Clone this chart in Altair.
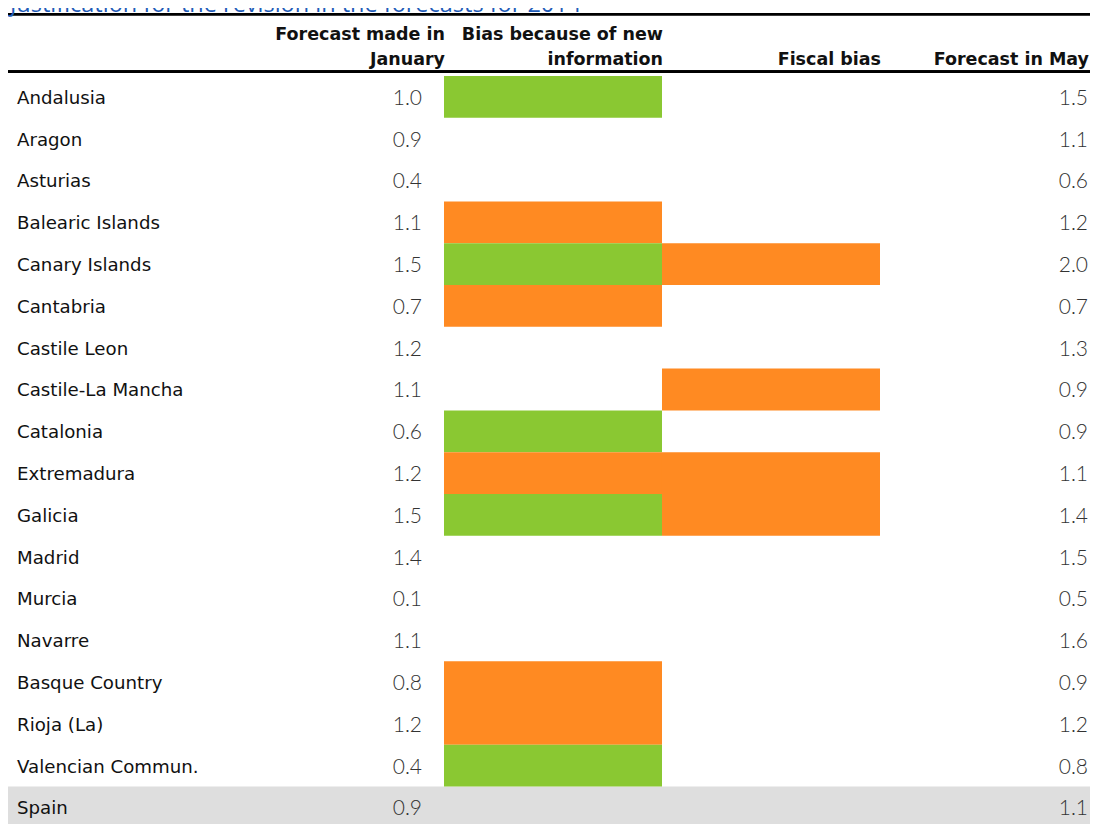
import altair as alt
import pandas as pd

# ---------------- data ----------------
regions = ["Andalusia", "Aragon", "Asturias", "Balearic Islands", "Canary Islands",
           "Cantabria", "Castile Leon", "Castile-La Mancha", "Catalonia", "Extremadura",
           "Galicia", "Madrid", "Murcia", "Navarre", "Basque Country", "Rioja (La)",
           "Valencian Commun.", "Spain"]
forecast_january = [1.0, 0.9, 0.4, 1.1, 1.5, 0.7, 1.2, 1.1, 0.6, 1.2,
                    1.5, 1.4, 0.1, 1.1, 0.8, 1.2, 0.4, 0.9]
forecast_may = [1.5, 1.1, 0.6, 1.2, 2.0, 0.7, 1.3, 0.9, 0.9, 1.1,
                1.4, 1.5, 0.5, 1.6, 0.9, 1.2, 0.8, 1.1]
# "up" = green cell, "down" = orange cell, "" = no bias
bias_new_information = ["up", "", "", "down", "up", "down", "", "", "up", "down",
                        "up", "", "", "", "down", "down", "up", ""]
bias_fiscal = ["", "", "", "", "down", "", "", "down", "", "down",
               "down", "", "", "", "", "", "", ""]
columns = ["Region", "Forecast made in January", "Bias because of new information",
           "Fiscal bias", "Forecast in May"]
header_line1 = ["", "Forecast made in", "Bias because of new", "", ""]
header_line2 = ["", "January", "information", "Fiscal bias", "Forecast in May"]
title_text = "Justification for the revision in the forecasts for 2014"
total_row = "Spain"

# ---------------- tables ----------------
W_SVG = 1082      # svg width (fits the page without scaling)
W = 1090          # band range of the table columns
ROW = 41.8
H = ROW * len(regions)

rows = pd.DataFrame({"region": regions, "jan": forecast_january, "may": forecast_may})
rows["c_label"] = columns[0]
rows["c_jan"] = columns[1]
rows["c_may"] = columns[4]

bar_records = []
for r, b in zip(regions, bias_new_information):
    if b:
        bar_records.append({"region": r, "col": columns[2], "dir": b})
for r, b in zip(regions, bias_fiscal):
    if b:
        bar_records.append({"region": r, "col": columns[3], "dir": b})
bars_df = pd.DataFrame(bar_records)

header_df = pd.DataFrame({"col": columns, "l1": header_line1, "l2": header_line2})
total_df = rows[rows["region"] == total_row]

xscale = alt.Scale(domain=columns, range=[0, W], paddingInner=0, paddingOuter=0)
yscale = alt.Scale(domain=regions, range=[0, H], paddingInner=0, paddingOuter=0)

LABEL_FONT = "DejaVu Sans"
NUM_FONT = "Lato"
TITLE_FONT = "Open Sans"

band = alt.Chart(total_df).mark_rect(color="#DEDEDE").encode(
    x=alt.value(0), x2=alt.value(W),
    y=alt.Y("region:N", scale=yscale, axis=None),
)

bars = alt.Chart(bars_df).mark_rect().encode(
    x=alt.X("col:N", scale=xscale, axis=None),
    y=alt.Y("region:N", scale=yscale, axis=None),
    color=alt.Color("dir:N", scale=alt.Scale(domain=["up", "down"],
                                              range=["#8AC832", "#FF8A22"]), legend=None),
)

labels = alt.Chart(rows).mark_text(
    align="left", baseline="middle", dx=9, dy=2, font=LABEL_FONT, fontSize=18.2,
    color="#111111"
).encode(
    x=alt.X("c_label:N", scale=xscale, axis=None, bandPosition=0),
    y=alt.Y("region:N", scale=yscale, axis=None),
    text="region:N",
)

jan_text = alt.Chart(rows).mark_text(
    align="right", baseline="middle", dx=-22, dy=2, font=NUM_FONT, fontWeight=300,
    fontSize=21, color="#333333"
).encode(
    x=alt.X("c_jan:N", scale=xscale, axis=None, bandPosition=1),
    y=alt.Y("region:N", scale=yscale, axis=None),
    text=alt.Text("jan:Q", format=".1f"),
)

may_text = alt.Chart(rows).mark_text(
    align="right", baseline="middle", dx=-10, dy=2, font=NUM_FONT, fontWeight=300,
    fontSize=21, color="#333333"
).encode(
    x=alt.X("c_may:N", scale=xscale, axis=None, bandPosition=1),
    y=alt.Y("region:N", scale=yscale, axis=None),
    text=alt.Text("may:Q", format=".1f"),
)

head1 = alt.Chart(header_df).mark_text(
    align="right", baseline="middle", dx=1, font=LABEL_FONT, fontWeight="bold",
    fontSize=17.5, color="#111111"
).encode(
    x=alt.X("col:N", scale=xscale, axis=None, bandPosition=1),
    y=alt.value(-41),
    text="l1:N",
)
head2 = alt.Chart(header_df[header_df["col"] != columns[4]]).mark_text(
    align="right", baseline="middle", dx=1, font=LABEL_FONT, fontWeight="bold",
    fontSize=17.5, color="#111111"
).encode(
    x=alt.X("col:N", scale=xscale, axis=None, bandPosition=1),
    y=alt.value(-16),
    text="l2:N",
)
head2_last = alt.Chart(header_df[header_df["col"] == columns[4]]).mark_text(
    align="right", baseline="middle", dx=-9, font=LABEL_FONT, fontWeight="bold",
    fontSize=17.5, color="#111111"
).encode(
    x=alt.X("col:N", scale=xscale, axis=None, bandPosition=1),
    y=alt.value(-16),
    text="l2:N",
)

rule_top = alt.Chart(header_df).mark_rule(color="#000000", strokeWidth=2.2).encode(
    x=alt.value(0), x2=alt.value(W), y=alt.value(-61.8)
)
rule_bottom = alt.Chart(header_df).mark_rule(color="#000000", strokeWidth=2.2).encode(
    x=alt.value(0), x2=alt.value(W), y=alt.value(-4.3)
)

title = alt.Chart(pd.DataFrame({"t": [title_text]})).mark_text(
    align="left", baseline="alphabetic", font=TITLE_FONT, fontSize=23.5, color="#1F5CB8"
).encode(
    x=alt.value(2), y=alt.value(-64), text="t:N"
)

chart = alt.layer(
    band, bars, labels, jan_text, may_text, head1, head2, head2_last,
    rule_top, rule_bottom, title
).properties(
    width=W_SVG, height=H,
    padding={"top": 68, "left": 0, "right": 0, "bottom": 0},
    autosize=alt.AutoSizeParams(type="none"),
).configure_view(strokeWidth=0)

chart.save("out.html", embed_options={"renderer": "svg", "actions": False})
